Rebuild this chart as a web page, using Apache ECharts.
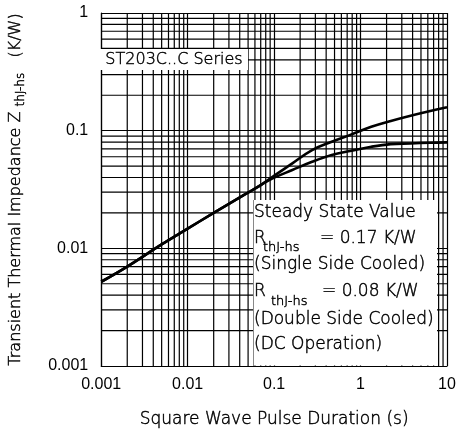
<!DOCTYPE html>
<html><head><meta charset="utf-8">
<script src="https://cdn.jsdelivr.net/npm/echarts@6/dist/echarts.min.js"></script>
<style>html,body{margin:0;padding:0;background:#fff}#c{width:459px;height:434px}</style>
</head><body><div id="c"></div>
<script>
// ---- data ----
const pulseCommon = [0.001, 0.002, 0.005, 0.01, 0.02, 0.047, 0.07];
const zCommon     = [0.0052, 0.0070, 0.0108, 0.0147, 0.020, 0.029, 0.0345];
const pulseTail   = [0.096, 0.1625, 0.275, 0.464, 0.785, 1.33, 2.24, 3.79, 6.4, 10];
const zSingle     = [0.0406, 0.0527, 0.0684, 0.0805, 0.093, 0.108, 0.121, 0.134, 0.147, 0.158];
const zDouble     = [0.0393, 0.0463, 0.0544, 0.0621, 0.0675, 0.073, 0.0769, 0.0779, 0.079, 0.0795];
const xTickLabels = ['0.001', '0.01', '0.1', '1', '10'];
const yTickLabels = ['0.001', '0.01', '0.1', '1'];
const xDecades = [0.001, 0.01, 0.1, 1];
const yDecades = [0.001, 0.01, 0.1];
const minorMult = [2, 3, 4, 5, 6, 7, 8, 9];
const xRange = [0.001, 10];
const yRange = [0.001, 1];

const singleData = pulseCommon.map((x, i) => [x, zCommon[i]]).concat(pulseTail.map((x, i) => [x, zSingle[i]]));
const doubleData = pulseCommon.map((x, i) => [x, zCommon[i]]).concat(pulseTail.map((x, i) => [x, zDouble[i]]));

const gridLs = { color: '#000', width: 1.2, type: 'solid' };
const numFont = '"Liberation Sans", sans-serif';
const txtFont = '"DejaVu Sans", sans-serif';

const chart = echarts.init(document.getElementById('c'));
const txt = (x, y, s, size) => ({
  type: 'text', z: 60, x: x, y: y,
  style: { text: s, fill: '#000', stroke: '#000', lineWidth: 0.45,
    font: '200 ' + (size || 17) + 'px ' + txtFont, textVerticalAlign: 'middle', textAlign: 'left' }
});
const boxes = [
  { type: 'rect', z: 50, shape: { x: 100, y: 49, width: 148, height: 21 }, style: { fill: '#fff' } },
  { type: 'text', z: 60, x: 174, y: 60, style: { text: 'ST203C..C Series', fill: '#000', stroke: '#000', lineWidth: 0.45,
    font: '200 16px ' + txtFont, textAlign: 'center', textVerticalAlign: 'middle' } },
  { type: 'rect', z: 50, shape: { x: 254, y: 200, width: 183, height: 165.4 }, style: { fill: '#fff' } },
  { type: 'line', z: 51, shape: { x1: 253.5, y1: 200, x2: 253.5, y2: 366 }, style: { stroke: '#888', lineWidth: 1 } },
  txt(254, 213, 'Steady State Value'),
  txt(254, 238.5, 'R'),
  txt(263, 248, 'thJ-hs', 13),
  txt(320, 238.5, '= 0.17 K/W'),
  txt(254, 264.5, '(Single Side Cooled)'),
  txt(254, 292, 'R'),
  txt(271, 302, 'thJ-hs', 13),
  txt(322, 292, '= 0.08 K/W'),
  txt(254, 319.5, '(Double Side Cooled)'),
  txt(254, 344.5, '(DC Operation)')
];
const nameStyle = { fontFamily: txtFont, fontWeight: 200, color: '#000', textBorderColor: '#000', textBorderWidth: 0.45 };
chart.setOption({
  animation: false,
  backgroundColor: '#fff',
  grid: { left: 96, right: 12, top: 13, bottom: 68 },
  xAxis: {
    type: 'log', logBase: 10, min: xRange[0], max: xRange[1],
    axisLine: { show: true, lineStyle: { color: '#000', width: 1.2 } },
    axisTick: { show: false },
    splitLine: { show: true, lineStyle: gridLs },
    axisLabel: { margin: 11, color: '#000', fontFamily: numFont, fontSize: 16,
      formatter: v => xTickLabels[Math.round(Math.log10(v)) + 3] },
    name: 'Square Wave Pulse Duration (s)', nameLocation: 'middle', nameGap: 45,
    nameTextStyle: Object.assign({ fontSize: 17, verticalAlign: 'top' }, nameStyle)
  },
  yAxis: {
    type: 'log', logBase: 10, min: yRange[0], max: yRange[1],
    axisLine: { show: true, lineStyle: { color: '#000', width: 1.2 } },
    axisTick: { show: false },
    splitLine: { show: true, lineStyle: gridLs },
    axisLabel: { margin: 13, color: '#000', fontFamily: numFont, fontSize: 16,
      formatter: v => yTickLabels[Math.round(Math.log10(v)) + 3] },
    name: '{m|Transient Thermal Impedance Z }{s|thJ-hs}{m|   (K/W)}',
    nameLocation: 'middle', nameRotate: 90, nameGap: 74,
    nameTextStyle: {
      color: '#000',
      rich: {
        m: Object.assign({ fontSize: 16, lineHeight: 22, verticalAlign: 'middle' }, nameStyle),
        s: Object.assign({ fontSize: 12, lineHeight: 22, verticalAlign: 'bottom' }, nameStyle)
      }
    }
  },
  series: [
    { name: 'Single Side Cooled', type: 'line', data: singleData, smooth: 0.4, showSymbol: false, z: 5,
      lineStyle: { color: '#000', width: 2.6 } },
    { name: 'Double Side Cooled', type: 'line', data: doubleData, smooth: 0.4, showSymbol: false, z: 5,
      lineStyle: { color: '#000', width: 2.6 } }
  ],
  graphic: boxes
});

// minor grid lines (2..9 in each decade), placed through the axes' own scales
const gridLines = [];
const addLine = (a, b) => {
  const p1 = chart.convertToPixel({ gridIndex: 0 }, a);
  const p2 = chart.convertToPixel({ gridIndex: 0 }, b);
  gridLines.push({ type: 'line', z: 1, silent: true,
    shape: { x1: p1[0], y1: p1[1], x2: p2[0], y2: p2[1] },
    style: { stroke: '#000', lineWidth: 1.2 } });
};
xDecades.forEach(d => minorMult.forEach(m => {
  const v = d * m;
  addLine([v, yRange[0]], [v, yRange[1]]);
}));
yDecades.forEach(d => minorMult.forEach(m => {
  const v = d * m;
  addLine([xRange[0], v], [xRange[1], v]);
}));
chart.setOption({ graphic: boxes.concat(gridLines) });
</script></body></html>
